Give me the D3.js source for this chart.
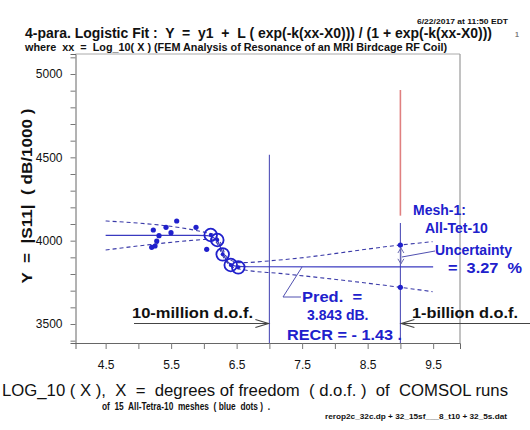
<!DOCTYPE html>
<html>
<head>
<meta charset="utf-8">
<script src="https://cdn.jsdelivr.net/npm/d3@7"></script>
<style>
  body { margin: 0; background: #fff; }
  svg { font-family: "Liberation Sans", Arial, Helvetica, sans-serif; }
  text { white-space: pre; }
</style>
</head>
<body>
<script>
// data (x = log10(dof), y = |S11| in dB/1000)
var smallMeshX = [5.228, 5.585, 5.422, 5.498, 5.88, 5.315, 5.28, 5.254, 5.203, 6.043];
var smallMeshY = [4064, 4118, 4080, 4048, 4080, 4030, 3998, 3968, 3960, 3948];
var bigMeshX = [6.104, 6.205, 6.287, 6.41, 6.525];
var bigMeshY = [4034, 4004, 3918, 3854, 3840];
var fitX = [4.5, 5.9, 6.05, 6.15, 6.22, 6.28, 6.34, 6.42, 6.52, 6.7, 9.5];
var fitY = [4032, 4032, 4030, 4018, 3990, 3935, 3885, 3856, 3846, 3843.5, 3843];
var upperX = [4.5, 6.04, 6.15, 6.25, 6.35, 6.55, 7.15, 9.0, 9.49];
var upperY = [4118, 4048, 4036, 3990, 3900, 3868, 3884, 3974, 3994];
var lowerX = [4.5, 6.04, 6.12, 6.2, 6.3, 6.45, 6.63, 7.15, 9.0, 9.49];
var lowerY = [3944, 4008, 4010, 3985, 3900, 3840, 3824, 3804, 3720, 3694];
var xTicks = [4.5, 5.0, 5.5, 6.0, 6.5, 7.0, 7.5, 8.0, 8.5, 9.0, 9.5];
var xTickLabels = [4.5, 5.5, 6.5, 7.5, 8.5, 9.5];
var yTicks = [3400, 3500, 3600, 3700, 3800, 3900, 4000, 4100, 4200, 4300, 4400, 4500, 4600, 4700, 4800, 4900, 5000, 5100];
var yTickLabels = [3500, 4000, 4500, 5000];
var predX = 9.0;
var predBand = [3974, 3720];
var predValue = 3843;
var tenMillionX = 7.0;

var blue = "#2020cc";
var lineBlue = "#3a3ac0";

var svg = d3.select("body").append("svg")
    .attr("width", 530)
    .attr("height", 430);

var xScale = d3.scaleLinear().domain([4.04, 9.91]).range([75.5, 460]);
var yScale = d3.scaleLinear().domain([3386, 5120]).range([343, 54]);

// frame
svg.append("line").attr("x1", 75.5).attr("x2", 460).attr("y1", 54).attr("y2", 54)
    .attr("stroke", "#aaa").attr("stroke-width", 1);
svg.append("line").attr("x1", 460).attr("x2", 460).attr("y1", 54).attr("y2", 343)
    .attr("stroke", "#999").attr("stroke-width", 1.2);

// axes
var yAxis = d3.axisLeft(yScale)
    .tickValues(yTicks)
    .tickSize(5)
    .tickFormat(function(d) { return yTickLabels.indexOf(d) >= 0 ? d : ""; });
var gy = svg.append("g").attr("transform", "translate(75.5,0)").call(yAxis);
gy.select(".domain").attr("stroke", "#666");
gy.selectAll(".tick line").attr("stroke", "#777");
gy.selectAll(".tick text").attr("font-size", 12).attr("fill", "#111")
    .attr("font-family", "Liberation Sans, Arial, sans-serif").attr("x", -13);

var xAxis = d3.axisBottom(xScale)
    .tickValues(xTicks)
    .tickSize(6)
    .tickFormat(function(d) { return xTickLabels.indexOf(d) >= 0 ? d3.format(".1f")(d) : ""; });
var gx = svg.append("g").attr("transform", "translate(0,343)").call(xAxis);
gx.select(".domain").attr("stroke", "#666");
gx.selectAll(".tick line").attr("stroke", "#777");
gx.selectAll(".tick text").attr("font-size", 12).attr("fill", "#111")
    .attr("font-family", "Liberation Sans, Arial, sans-serif").attr("y", 17);

// vertical marker lines
svg.append("line")
    .attr("x1", xScale(tenMillionX)).attr("x2", xScale(tenMillionX))
    .attr("y1", yScale(4515)).attr("y2", 343)
    .attr("stroke", "#5050b8").attr("stroke-width", 1.1);
svg.append("line")
    .attr("x1", xScale(predX)).attr("x2", xScale(predX))
    .attr("y1", yScale(4904)).attr("y2", yScale(4150))
    .attr("stroke", "#e08080").attr("stroke-width", 1.6);
svg.append("line")
    .attr("x1", xScale(predX)).attr("x2", xScale(predX))
    .attr("y1", yScale(4106)).attr("y2", 343)
    .attr("stroke", "#5050b8").attr("stroke-width", 1.1);

// fit and bands
var line = d3.line()
    .x(function(d) { return xScale(d[0]); })
    .y(function(d) { return yScale(d[1]); })
    .curve(d3.curveMonotoneX);

svg.append("path").datum(d3.zip(fitX, fitY)).attr("d", line)
    .attr("fill", "none").attr("stroke", lineBlue).attr("stroke-width", 1.2);
svg.append("path").datum(d3.zip(upperX, upperY)).attr("d", line)
    .attr("fill", "none").attr("stroke", "#3a3aa8").attr("stroke-width", 1.1)
    .attr("stroke-dasharray", "4,3");
svg.append("path").datum(d3.zip(lowerX, lowerY)).attr("d", line)
    .attr("fill", "none").attr("stroke", "#3a3aa8").attr("stroke-width", 1.1)
    .attr("stroke-dasharray", "4,3");

// data points
svg.selectAll("circle.small").data(d3.zip(smallMeshX, smallMeshY)).enter()
    .append("circle").attr("class", "small")
    .attr("cx", function(d) { return xScale(d[0]); })
    .attr("cy", function(d) { return yScale(d[1]); })
    .attr("r", 2.6).attr("fill", blue);
var big = svg.selectAll("g.big").data(d3.zip(bigMeshX, bigMeshY)).enter().append("g");
big.append("circle")
    .attr("cx", function(d) { return xScale(d[0]); })
    .attr("cy", function(d) { return yScale(d[1]); })
    .attr("r", 6.3).attr("fill", "none").attr("stroke", blue).attr("stroke-width", 1.8);
big.append("circle")
    .attr("cx", function(d) { return xScale(d[0]); })
    .attr("cy", function(d) { return yScale(d[1]); })
    .attr("r", 2).attr("fill", blue);

// prediction band dots at mesh-1
svg.selectAll("circle.pred").data(predBand).enter()
    .append("circle").attr("class", "pred")
    .attr("cx", xScale(predX)).attr("cy", function(d) { return yScale(d); })
    .attr("r", 2.6).attr("fill", blue);

// uncertainty double arrow
var ax = xScale(predX) + 0.5;
var aTop = yScale(predBand[0]) + 3, aBot = yScale(predValue) - 3;
svg.append("line").attr("x1", ax).attr("x2", ax).attr("y1", aTop).attr("y2", aBot)
    .attr("stroke", "#6a6ab0").attr("stroke-width", 1);
svg.append("path").attr("d", "M" + (ax - 3) + "," + (aTop + 5) + "L" + ax + "," + aTop + "L" + (ax + 3) + "," + (aTop + 5))
    .attr("fill", "none").attr("stroke", "#6a6ab0").attr("stroke-width", 1);
svg.append("path").attr("d", "M" + (ax - 3) + "," + (aBot - 5) + "L" + ax + "," + aBot + "L" + (ax + 3) + "," + (aBot - 5))
    .attr("fill", "none").attr("stroke", "#6a6ab0").attr("stroke-width", 1);
svg.append("line").attr("x1", ax + 1).attr("y1", 257).attr("x2", 435).attr("y2", 251)
    .attr("stroke", "#5050b0").attr("stroke-width", 1);

// pred leader
svg.append("path").attr("d", "M" + xScale(7.5) + "," + yScale(predValue) + "L283,297L301,297")
    .attr("fill", "none").attr("stroke", "#5050b0").attr("stroke-width", 1);

// dof arrows
function arrow(x1, x2, y) {
    svg.append("line").attr("x1", x1).attr("x2", x2).attr("y1", y).attr("y2", y)
        .attr("stroke", "#444").attr("stroke-width", 1.2);
    var dir = x2 > x1 ? -1 : 1;
    svg.append("path")
        .attr("d", "M" + (x2 + dir * 13) + "," + (y - 4) + "L" + x2 + "," + y + "L" + (x2 + dir * 13) + "," + (y + 4))
        .attr("fill", "none").attr("stroke", "#444").attr("stroke-width", 1.2);
}
arrow(134, xScale(tenMillionX) - 1, 323.5);
arrow(530, xScale(predX) + 1, 323.5);

// texts
function txt(x, y, s, size, opts) {
    opts = opts || {};
    var t = svg.append("text").attr("x", x).attr("y", y).text(s)
        .attr("font-size", size)
        .attr("font-weight", opts.weight || "bold")
        .attr("fill", opts.fill || "#111")
        .attr("text-anchor", opts.anchor || "start");
    if (opts.len) t.attr("textLength", opts.len).attr("lengthAdjust", "spacingAndGlyphs");
    if (opts.rotate) t.attr("transform", "rotate(-90," + x + "," + y + ")");
    return t;
}

txt(508, 24, "6/22/2017 at 11:50 EDT", 8, {anchor: "end", len: 91});
txt(25, 38, "4-para. Logistic Fit :  Y  =  y1  +  L ( exp(-k(xx-X0))) / (1 + exp(-k(xx-X0)))", 14, {len: 467});
txt(515, 37, "1", 7, {fill: "#777"});
txt(25, 51, "where  xx  =  Log_10( X ) (FEM Analysis of Resonance of an MRI Birdcage RF Coil)", 11.5, {len: 422});

txt(32, 196, "Y  =  |S11|  ( dB/1000 )", 14, {anchor: "middle", rotate: true, len: 175});

txt(413, 215, "Mesh-1:", 14, {fill: blue});
txt(425, 233, "All-Tet-10", 14, {fill: blue});
txt(435, 255, "Uncertainty", 14, {fill: blue});
txt(448, 273, "=  3.27  %", 14, {fill: blue, len: 74});

txt(302, 302, "Pred.  =", 14, {fill: blue, len: 60});
txt(307, 320, "3.843 dB.", 14, {fill: blue});
txt(287, 340, "RECR = - 1.43 .", 14, {fill: blue, len: 115});

txt(132, 318, "10-million d.o.f.", 14, {fill: "#111", len: 121});
txt(412, 318, "1-billion d.o.f.", 14, {fill: "#111", len: 106});

txt(255, 396, "LOG_10 ( X ),  X  =  degrees of freedom  ( d.o.f. )  of  COMSOL runs", 16, {anchor: "middle", weight: "normal", len: 506});
txt(102, 410, "of  15  All-Tetra-10  meshes  ( blue  dots )  .", 10, {len: 168});
txt(325, 419, "rerop2c_32c.dp + 32_15sf___8_t10 + 32_5s.dat", 7.5, {len: 182});
</script>
</body>
</html>
